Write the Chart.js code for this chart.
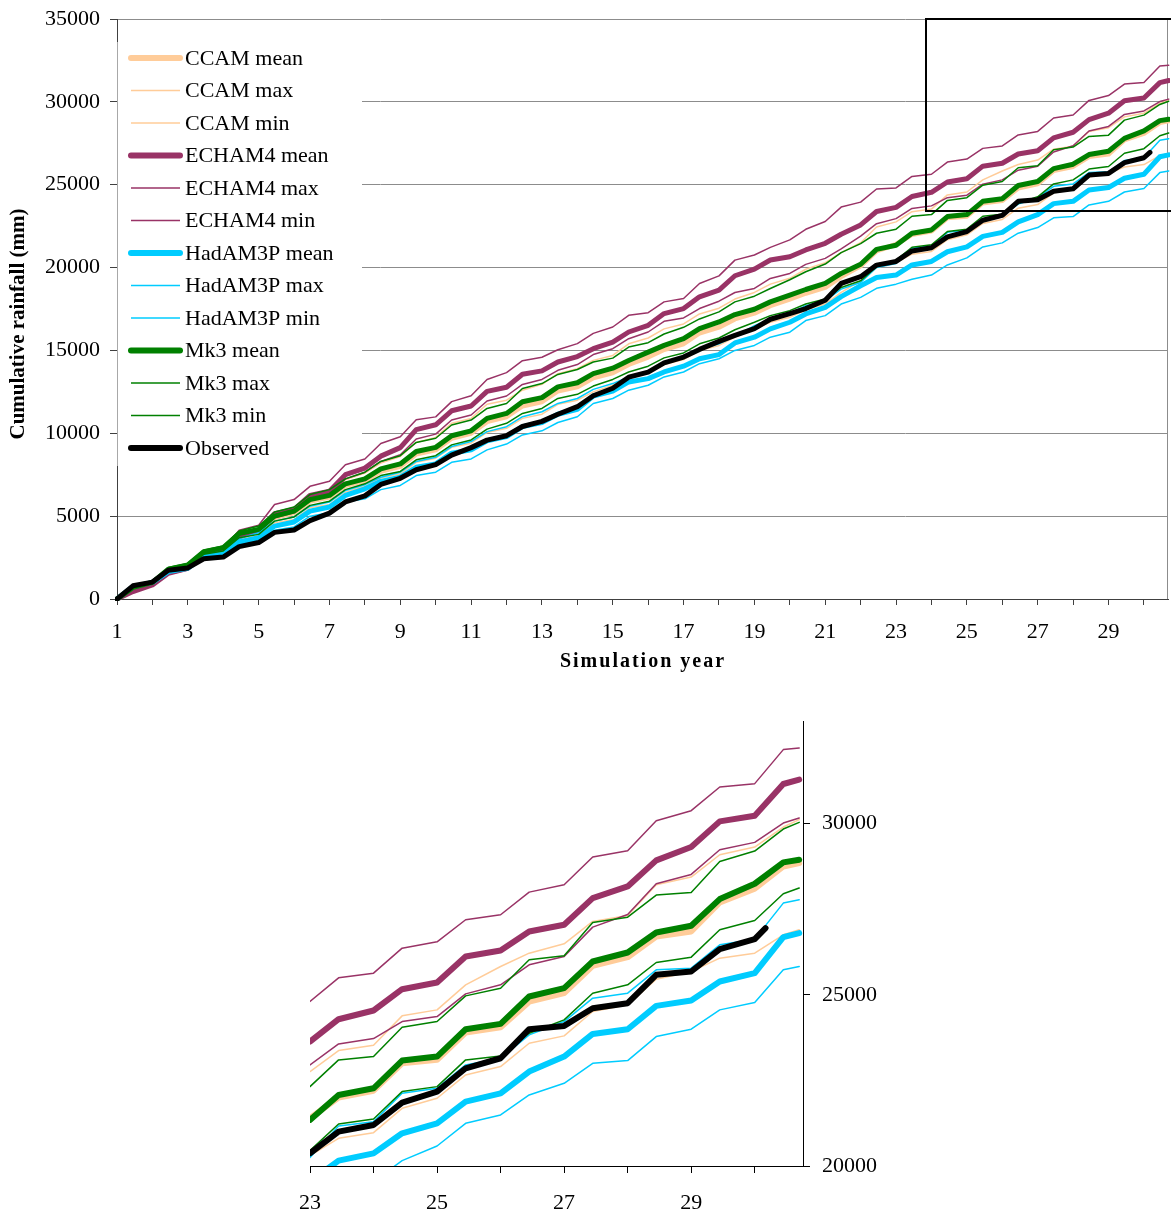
<!DOCTYPE html>
<html>
<head>
<meta charset="utf-8">
<script src="https://cdn.jsdelivr.net/npm/chart.js@4.4.1/dist/chart.umd.min.js"></script>
<style>
  html, body { margin: 0; padding: 0; background: #ffffff; }
  #wrap { position: relative; width: 1171px; height: 1213px; overflow: hidden; }
  #mainBox { position: absolute; left: 0; top: 0; width: 1171px; height: 690px; }
  #zoomBox { position: absolute; left: 0; top: 700px; width: 1171px; height: 513px; }
</style>
</head>
<body>
<div id="wrap">
  <div id="mainBox"><canvas id="mainChart"></canvas></div>
  <div id="zoomBox"><canvas id="zoomChart"></canvas></div>
</div>
<script>
// Sample times (simulation year): start of each wet season and the end of its rise.
const modelYears = [1,1.45,2,2.45,3,3.45,4,4.45,5,5.45,6,6.45,7,7.45,8,8.45,9,9.45,10,10.45,
  11,11.45,12,12.45,13,13.45,14,14.45,15,15.45,16,16.45,17,17.45,18,18.45,19,19.45,20,20.45,
  21,21.45,22,22.45,23,23.45,24,24.45,25,25.45,26,26.45,27,27.45,28,28.45,29,29.45,30,30.45,30.7];
const observedYears = [1,1.45,2,2.45,3,3.45,4,4.45,5,5.45,6,6.45,7,7.45,8,8.45,9,9.45,10,10.45,
  11,11.45,12,12.45,13,13.45,14,14.45,15,15.45,16,16.45,17,17.45,18,18.45,19,19.45,20,20.45,
  21,21.45,22,22.45,23,23.45,24,24.45,25,25.45,26,26.45,27,27.45,28,28.45,29,29.45,30,30.17];

// Cumulative rainfall (mm)
const ccamMean = [0,650,950,1750,2000,2800,3050,3850,4050,4900,5200,5900,6150,6850,7150,7700,8000,8750,9000,9700,
  10000,10700,11000,11650,11900,12550,12800,13350,13650,14150,14600,15050,15400,16050,16400,16900,17250,17700,18100,18450,
  18800,19450,20100,21000,21400,22000,22200,23000,23100,23900,24050,24800,25050,25850,26100,26700,26850,27700,28100,28750,28850];
const ccamMax = [0,550,900,1600,1900,2700,2950,3800,4200,5000,5300,6050,6400,7200,7600,8200,8600,9450,9750,10600,
  10900,11750,12000,12600,12950,13600,13900,14400,14700,15400,15750,16300,16600,17200,17550,18100,18500,19000,19350,19900,
  20300,20900,21500,22450,22758,23372,23528,24386,24561,25292,25828,26218,26491,27144,27319,28216,28440,29093,29317,29902,30117];
const ccamMin = [0,600,900,1650,1900,2600,2800,3600,3800,4600,4800,5500,5700,6450,6800,7300,7550,8250,8500,9150,
  9400,10050,10300,10900,11150,11750,12000,12500,12900,13350,13650,14150,14450,15000,15300,15800,16300,16700,17000,17450,
  17800,18500,19200,20000,20300,20808,20974,21685,21978,22660,22904,23586,23801,24512,24707,25458,25682,26072,26218,26754,26900];
const echamMean = [0,450,850,1550,1850,2600,2850,3800,4150,5150,5400,6250,6500,7500,7900,8620,9135,10225,10513,11357,
  11645,12530,12777,13559,13765,14300,14629,15103,15506,16112,16516,17223,17526,18233,18637,19506,19910,20455,20657,21061,
  21465,22010,22576,23384,23635,24288,24542,25165,25360,26120,26296,26852,27046,27826,28167,28928,29318,30068,30234,31160,31286];
const echamMax = [0,450,900,1700,1950,2800,3050,4150,4450,5700,6000,6800,7100,8100,8450,9380,9790,10820,10990,11910,
  12260,13250,13660,14380,14590,15040,15410,16030,16415,17120,17280,17930,18130,19040,19500,20450,20760,21220,21670,22310,
  22780,23650,23950,24740,24805,25497,25633,26364,26549,27193,27339,28001,28216,29025,29210,30088,30380,31072,31170,32164,32212];
const echamMin = [0,400,800,1500,1750,2500,2750,3650,4050,4900,5200,6000,6300,7250,7650,8300,8700,9650,9950,10800,
  11100,11950,12250,12950,13250,13800,14150,14750,15102,15708,16112,16758,16960,17526,17970,18496,18738,19344,19647,20192,
  20556,21122,21900,22650,22953,23567,23723,24220,24366,25029,25292,25877,26120,26978,27349,28245,28518,29240,29454,30019,30166];
const hadMean = [0,750,1000,1650,1850,2550,2700,3450,3700,4400,4650,5300,5550,6250,6650,7100,7350,7950,8150,8800,
  9000,9550,9800,10400,10650,11150,11450,12250,12550,13100,13300,13700,14050,14500,14750,15450,15800,16300,16700,17200,
  17600,18250,18900,19400,19550,20156,20370,20955,21247,21880,22124,22758,23196,23859,23996,24678,24834,25390,25633,26686,26803];
const hadMax = [0,800,1050,1750,1950,2650,2850,3650,4000,4700,4950,5600,5850,6550,6900,7350,7650,8300,8550,9200,
  9500,10100,10400,11000,11300,11800,12100,12650,13000,13400,13750,14250,14550,15050,15400,15850,16500,16900,17250,17700,
  18000,18700,19100,20000,20250,21169,21296,22125,22271,22953,23148,23830,24220,24902,25048,25731,25780,26462,26627,27680,27777];
const hadMin = [0,700,950,1600,1800,2450,2600,3300,3500,4150,4350,5000,5200,5850,6050,6600,6850,7450,7650,8250,
  8450,9000,9350,9900,10150,10650,11000,11800,12100,12600,12900,13400,13700,14200,14500,15000,15300,15800,16100,16800,
  17100,17800,18200,18750,19000,19300,19550,20156,20584,21247,21491,22075,22417,23001,23079,23781,23996,24561,24776,25731,25828];
const mk3Mean = [0,700,1000,1800,2050,2850,3100,3950,4200,5000,5300,6000,6250,6950,7250,7850,8150,8900,9150,9850,
  10150,10900,11200,11900,12150,12800,13050,13600,13930,14395,14900,15304,15708,16314,16718,17162,17486,17930,18334,18677,
  19041,19647,20200,21100,21345,22075,22270,23079,23196,23996,24152,24951,25195,25974,26237,26822,27017,27797,28245,28869,28947];
const mk3Max = [0,750,1050,1900,2150,2950,3200,4100,4400,5250,5550,6300,6600,7250,7650,8300,8650,9450,9700,10500,
  10800,11500,11800,12700,13000,13550,13850,14300,14536,15203,15466,15991,16395,16900,17324,17930,18273,18738,19263,19748,
  20212,20899,21445,22071,22319,23099,23197,24054,24220,24970,25194,26023,26140,27115,27270,27914,27992,28898,29200,29844,30039];
const mk3Min = [0,650,950,1700,1950,2700,2900,3700,3900,4700,4950,5650,5900,6600,6950,7450,7700,8400,8650,9300,
  9600,10250,10600,11200,11500,12100,12350,12850,13250,13700,14050,14550,14850,15400,15750,16250,16700,17100,17400,17800,
  18100,18800,19200,20050,20450,21227,21374,22173,22319,23099,23216,23879,24269,25048,25292,25945,26101,26900,27173,27953,28119];
const observed = [0,795,1020,1734,1877,2428,2530,3163,3408,4020,4163,4734,5183,5857,6224,6912,7282,7797,8105,8682,
  9135,9587,9855,10410,10719,11151,11604,12263,12718,13385,13688,14254,14597,15062,15546,15910,16314,16880,17223,17526,
  18031,19041,19450,20150,20370,21003,21198,21851,22173,22855,23148,23996,24093,24610,24756,25584,25682,26335,26627,26949];

// Axis ticks and labels
const mainYearTicks = [1,2,3,4,5,6,7,8,9,10,11,12,13,14,15,16,17,18,19,20,21,22,23,24,25,26,27,28,29,30];
const mainYearLabels = [1,3,5,7,9,11,13,15,17,19,21,23,25,27,29];
const zoomYearTicks = [23,24,25,26,27,28,29,30];
const zoomYearLabels = [23,25,27,29];
const zoomValueTicks = [20000,25000,30000];

// Highlighted window on the full-period chart (shown enlarged below)
const zoomWindow = { fromYear: 23.85, fromValue: 23400, toValue: 35000 };

const FONT = '"Liberation Serif", "Times New Roman", serif';
const PEACH = '#FFCC99', PLUM = '#993366', SKY = '#00CCFF', GREEN = '#008000', BLACK = '#000000';

const series = [
  { label: 'CCAM mean',    values: ccamMean,  color: PEACH, thick: true },
  { label: 'CCAM max',     values: ccamMax,   color: PEACH, thick: false },
  { label: 'CCAM min',     values: ccamMin,   color: PEACH, thick: false },
  { label: 'ECHAM4 mean',  values: echamMean, color: PLUM,  thick: true },
  { label: 'ECHAM4 max',   values: echamMax,  color: PLUM,  thick: false },
  { label: 'ECHAM4 min',   values: echamMin,  color: PLUM,  thick: false },
  { label: 'HadAM3P mean', values: hadMean,   color: SKY,   thick: true },
  { label: 'HadAM3P max',  values: hadMax,    color: SKY,   thick: false },
  { label: 'HadAM3P min',  values: hadMin,    color: SKY,   thick: false },
  { label: 'Mk3 mean',     values: mk3Mean,   color: GREEN, thick: true },
  { label: 'Mk3 max',      values: mk3Max,    color: GREEN, thick: false },
  { label: 'Mk3 min',      values: mk3Min,    color: GREEN, thick: false },
  { label: 'Observed',     values: observed,  color: BLACK, thick: true, years: observedYears }
];

function buildDatasets(thickWidth, clip) {
  return series.map((s, i) => ({
    label: s.label,
    data: (s.years || modelYears).map((x, j) => ({ x: x, y: s.values[j] })),
    borderColor: s.color,
    backgroundColor: s.color,
    borderWidth: s.thick ? thickWidth : 1.5,
    pointRadius: 0,
    pointHoverRadius: 0,
    fill: false,
    tension: 0,
    borderJoinStyle: 'round',
    borderCapStyle: 'round',
    clip: clip,
    // later entries are painted over earlier ones
    order: series.length - 1 - i
  }));
}

const tickFont = { family: FONT, size: 22 };

// Fixed axis box sizes, without the extra room Chart.js keeps for end labels
function fixVerticalAxis(width) {
  return (axis) => {
    axis.width = width;
    axis.paddingTop = 0;
    axis.paddingBottom = 0;
  };
}

// Key listing every series, on a white panel at the top left of the plot
const keyPlugin = {
  id: 'seriesKey',
  beforeDatasetsDraw(chart) {
    const { ctx, chartArea } = chart;
    const left = chartArea.left, right = 362, top = 42, bottom = 466;
    ctx.save();
    ctx.fillStyle = '#ffffff';
    ctx.fillRect(left, top, right - left, bottom - top);
    ctx.strokeStyle = '#a8a8a8';
    ctx.lineWidth = 1;
    ctx.beginPath();
    ctx.moveTo(left + 0.5, top);
    ctx.lineTo(left + 0.5, bottom);
    ctx.stroke();
    ctx.font = '22px ' + FONT;
    ctx.textBaseline = 'middle';
    ctx.textAlign = 'left';
    series.forEach((s, i) => {
      const y = 58 + i * 32.5;
      ctx.strokeStyle = s.color;
      ctx.lineWidth = s.thick ? 6 : 1.5;
      ctx.lineCap = s.thick ? 'round' : 'butt';
      ctx.beginPath();
      ctx.moveTo(131, y);
      ctx.lineTo(180, y);
      ctx.stroke();
      ctx.fillStyle = '#000000';
      ctx.fillText(s.label, 185, y + 1);
    });
    ctx.restore();
  }
};

// Right-hand plot border and the outline of the enlarged window
const framePlugin = {
  id: 'plotFrame',
  beforeDatasetsDraw(chart) {
    const { ctx, chartArea } = chart;
    ctx.save();
    ctx.strokeStyle = '#8c8c8c';
    ctx.lineWidth = 1;
    const x = Math.round(chartArea.right) - 0.5;
    ctx.beginPath();
    ctx.moveTo(x, chartArea.top);
    ctx.lineTo(x, chartArea.bottom);
    ctx.stroke();
    ctx.restore();
  },
  afterDatasetsDraw(chart) {
    const { ctx } = chart;
    const xs = chart.scales.x, ys = chart.scales.y;
    const x0 = Math.round(xs.getPixelForValue(zoomWindow.fromYear));
    const yTop = Math.round(ys.getPixelForValue(zoomWindow.toValue));
    const yBottom = Math.round(ys.getPixelForValue(zoomWindow.fromValue));
    ctx.save();
    ctx.strokeStyle = '#000000';
    ctx.lineWidth = 2;
    ctx.beginPath();
    ctx.moveTo(chart.width + 5, yTop);
    ctx.lineTo(x0, yTop);
    ctx.lineTo(x0, yBottom);
    ctx.lineTo(chart.width + 5, yBottom);
    ctx.stroke();
    ctx.restore();
  }
};

// Axis titles
const titlePlugin = {
  id: 'axisTitles',
  afterDraw(chart) {
    const { ctx } = chart;
    ctx.save();
    ctx.fillStyle = '#000000';
    ctx.textAlign = 'center';
    ctx.textBaseline = 'middle';
    ctx.font = 'bold 21px ' + FONT;
    ctx.translate(19, 324);
    ctx.rotate(-Math.PI / 2);
    ctx.fillText('Cumulative rainfall (mm)', 0, 0);
    ctx.restore();
    ctx.save();
    ctx.fillStyle = '#000000';
    ctx.textAlign = 'center';
    ctx.textBaseline = 'middle';
    ctx.font = 'bold 20px ' + FONT;
    if ('letterSpacing' in ctx) ctx.letterSpacing = '2px';
    ctx.fillText('Simulation year', 643, 662);
    ctx.restore();
  }
};

Chart.defaults.font.family = FONT;
Chart.defaults.color = '#000000';

new Chart(document.getElementById('mainChart'), {
  type: 'line',
  data: { datasets: buildDatasets(5, 2) },
  options: {
    responsive: true,
    maintainAspectRatio: false,
    animation: false,
    devicePixelRatio: 1,
    events: [],
    layout: { padding: { left: 0, right: 3, top: 19, bottom: 0 } },
    plugins: { legend: { display: false }, tooltip: { enabled: false } },
    scales: {
      x: {
        type: 'linear',
        min: 1,
        max: 30.68,
        afterBuildTicks: (axis) => { axis.ticks = mainYearTicks.map(v => ({ value: v })); },
        afterFit: (axis) => { axis.height = 91; },
        ticks: {
          autoSkip: false,
          maxRotation: 0,
          padding: 14,
          font: tickFont,
          color: '#000000',
          callback: (v) => mainYearLabels.includes(v) ? String(v) : ''
        },
        grid: { drawOnChartArea: false, drawTicks: true, tickLength: 6, tickColor: '#404040' },
        border: { color: '#404040', width: 1 }
      },
      y: {
        min: 0,
        max: 35000,
        afterFit: fixVerticalAxis(117),
        ticks: {
          stepSize: 5000,
          padding: 10,
          font: tickFont,
          color: '#000000',
          callback: (v) => String(v)
        },
        grid: { color: '#8c8c8c', lineWidth: 1, drawTicks: true, tickLength: 7, tickColor: '#404040' },
        border: { color: '#404040', width: 1 }
      }
    }
  },
  plugins: [framePlugin, keyPlugin, titlePlugin]
});

new Chart(document.getElementById('zoomChart'), {
  type: 'line',
  data: { datasets: buildDatasets(6, 0) },
  options: {
    responsive: true,
    maintainAspectRatio: false,
    animation: false,
    devicePixelRatio: 1,
    events: [],
    layout: { padding: { left: 310, right: 0, top: 21, bottom: 0 } },
    plugins: { legend: { display: false }, tooltip: { enabled: false } },
    scales: {
      x: {
        type: 'linear',
        min: 23,
        max: 30.76,
        afterBuildTicks: (axis) => { axis.ticks = zoomYearTicks.map(v => ({ value: v })); },
        afterFit: (axis) => { axis.height = 47; },
        ticks: {
          autoSkip: false,
          maxRotation: 0,
          padding: 17,
          font: tickFont,
          color: '#000000',
          callback: (v) => zoomYearLabels.includes(v) ? String(v) : ''
        },
        grid: { drawOnChartArea: false, drawTicks: true, tickLength: 7, tickColor: '#000000' },
        border: { color: '#000000', width: 1 }
      },
      y: {
        position: 'right',
        min: 20000,
        max: 33000,
        afterBuildTicks: (axis) => { axis.ticks = zoomValueTicks.map(v => ({ value: v })); },
        afterFit: fixVerticalAxis(368),
        ticks: {
          padding: 12,
          font: tickFont,
          color: '#000000',
          callback: (v) => String(v)
        },
        grid: { drawOnChartArea: false, drawTicks: true, tickLength: 7, tickColor: '#000000' },
        border: { color: '#000000', width: 1 }
      }
    }
  }
});
</script>
</body>
</html>
